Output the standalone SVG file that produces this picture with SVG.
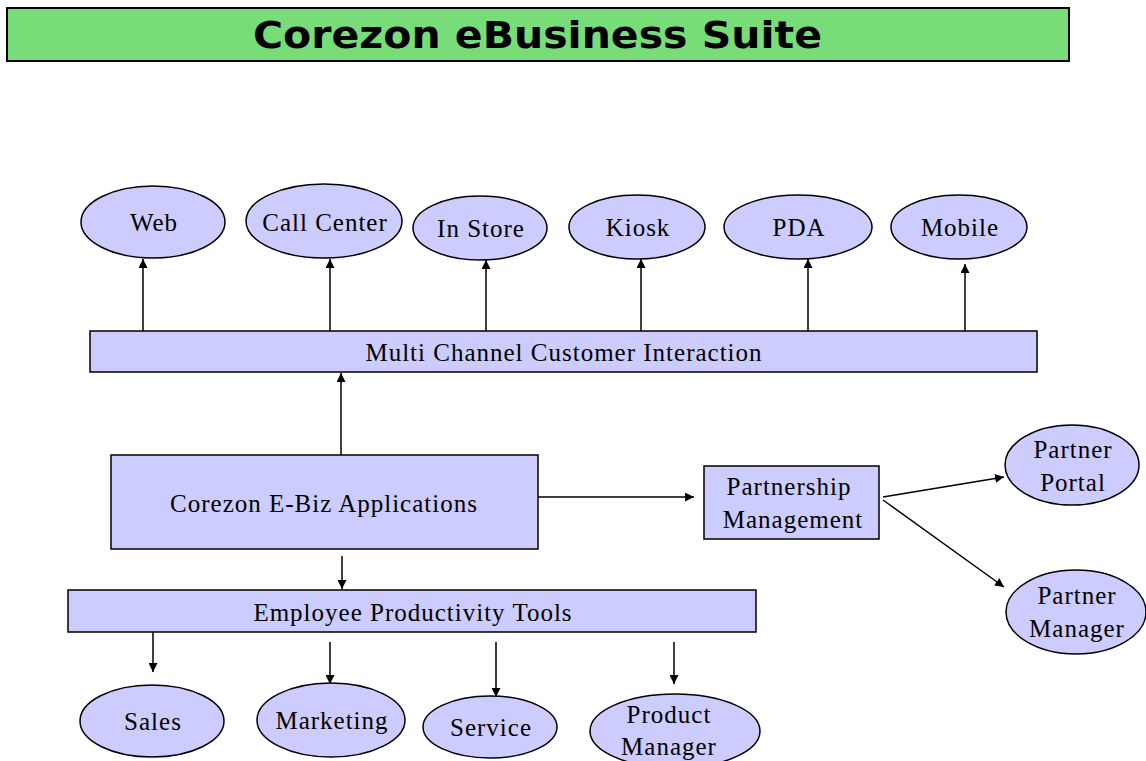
<svg xmlns="http://www.w3.org/2000/svg" width="1146" height="761" viewBox="0 0 1146 761">
<style>
.n{fill:#ccccff;stroke:#000;stroke-width:1.5}
.t{font-family:"Liberation Serif","Times New Roman",serif;font-size:25px;letter-spacing:1px;fill:#000;text-anchor:middle}
.c{stroke:#000;stroke-width:1.5;fill:none;marker-end:url(#ah)}
.title{font-family:"DejaVu Sans",Verdana,sans-serif;font-weight:bold;font-size:38px;fill:#000}
</style>
<defs>
<marker id="ah" viewBox="0 0 10 10" refX="10" refY="5" markerWidth="9" markerHeight="9" markerUnits="userSpaceOnUse" orient="auto">
<path d="M0,0 L10,5 L0,10 z" fill="#000"/>
</marker>
</defs>
<rect width="1146" height="761" fill="#fff"/>
<g id="title">
<rect x="7" y="8" width="1062" height="53" fill="#78dd78" stroke="#000" stroke-width="2"/>
<text class="title" x="253" y="48" textLength="569" lengthAdjust="spacingAndGlyphs">Corezon eBusiness Suite</text>
</g>
<g id="connectors">
<line class="c" x1="143" y1="331" x2="143" y2="259"/>
<line class="c" x1="330" y1="331" x2="330" y2="259"/>
<line class="c" x1="486" y1="331" x2="486" y2="260"/>
<line class="c" x1="641" y1="331" x2="641" y2="259"/>
<line class="c" x1="808" y1="331" x2="808" y2="259"/>
<line class="c" x1="965" y1="331" x2="965" y2="264"/>
<line class="c" x1="341" y1="455" x2="341" y2="373"/>
<line class="c" x1="538" y1="497" x2="694" y2="497"/>
<line class="c" x1="883" y1="497" x2="1004" y2="477"/>
<line class="c" x1="883" y1="500" x2="1004" y2="587"/>
<line class="c" x1="342" y1="556" x2="342" y2="589"/>
<line class="c" x1="153" y1="632" x2="153" y2="672"/>
<line class="c" x1="330" y1="642" x2="330" y2="684"/>
<line class="c" x1="496" y1="642" x2="496" y2="697"/>
<line class="c" x1="674" y1="642" x2="674" y2="684"/>
</g>
<g id="web"><ellipse class="n" cx="153" cy="222" rx="72" ry="36"/><text class="t" x="154" y="231">Web</text></g>
<g id="callcenter"><ellipse class="n" cx="324" cy="221" rx="78" ry="37"/><text class="t" x="325" y="231">Call Center</text></g>
<g id="instore"><ellipse class="n" cx="480" cy="228" rx="67" ry="32"/><text class="t" x="481" y="237">In Store</text></g>
<g id="kiosk"><ellipse class="n" cx="637" cy="227" rx="68" ry="32"/><text class="t" x="638" y="236">Kiosk</text></g>
<g id="pda"><ellipse class="n" cx="798" cy="227" rx="74" ry="32"/><text class="t" x="799" y="236">PDA</text></g>
<g id="mobile"><ellipse class="n" cx="959" cy="227" rx="68" ry="32"/><text class="t" x="960" y="236">Mobile</text></g>
<g id="multichannel"><rect class="n" x="90" y="331" width="947" height="41"/><text class="t" x="564" y="361">Multi Channel Customer Interaction</text></g>
<g id="ebiz"><rect class="n" x="111" y="455" width="427" height="94"/><text class="t" x="324" y="512">Corezon E-Biz Applications</text></g>
<g id="partnership"><rect class="n" x="704" y="466" width="175" height="73"/><text class="t" x="789" y="495">Partnership</text><text class="t" x="793" y="528">Management</text></g>
<g id="partnerportal"><ellipse class="n" cx="1072" cy="465" rx="67" ry="40"/><text class="t" x="1073" y="458">Partner</text><text class="t" x="1073" y="491">Portal</text></g>
<g id="partnermanager"><ellipse class="n" cx="1076" cy="612" rx="70" ry="42"/><text class="t" x="1077" y="604">Partner</text><text class="t" x="1077" y="637">Manager</text></g>
<g id="employee"><rect class="n" x="68" y="590" width="688" height="42"/><text class="t" x="413" y="621">Employee Productivity Tools</text></g>
<g id="sales"><ellipse class="n" cx="152" cy="721" rx="72" ry="36"/><text class="t" x="153" y="730">Sales</text></g>
<g id="marketing"><ellipse class="n" cx="331" cy="720" rx="74" ry="37"/><text class="t" x="332" y="729">Marketing</text></g>
<g id="service"><ellipse class="n" cx="490" cy="727" rx="67" ry="31"/><text class="t" x="491" y="736">Service</text></g>
<g id="productmanager"><ellipse class="n" cx="675" cy="731" rx="85" ry="37"/><text class="t" x="669" y="723">Product</text><text class="t" x="669" y="755">Manager</text></g>
</svg>
